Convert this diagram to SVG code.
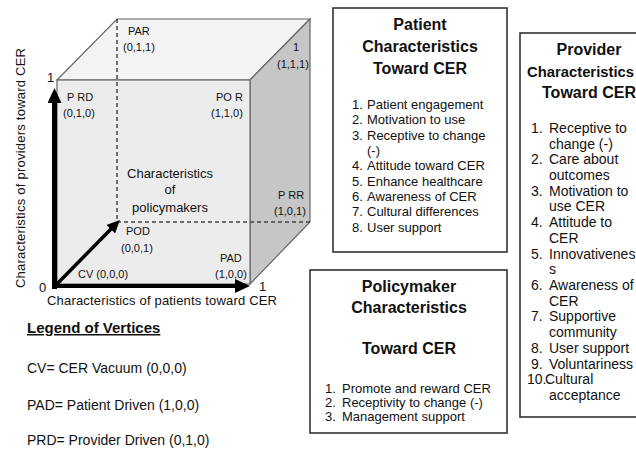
<svg xmlns="http://www.w3.org/2000/svg" width="636" height="450" viewBox="0 0 636 450">
<style>
text{font-family:"Liberation Sans",Arial,sans-serif;fill:#111}
.v{font-size:11px}
.ax{font-size:13px}
.ttl{font-size:16px;font-weight:bold}
.it{font-size:13px}
.pit{font-size:14px}
.lg{font-size:14px}
.box{fill:#fff;stroke:#333;stroke-width:1.6}
.edge{stroke:#666;stroke-width:1.2}
.dash{fill:none;stroke:#444;stroke-width:1.5;stroke-dasharray:4,3}
</style>
<defs>
<marker id="head" markerUnits="userSpaceOnUse" markerWidth="15" markerHeight="14" refX="1" refY="7" orient="auto"><path d="M0,0 L15,7 L0,14 z" fill="#000"/></marker>
<marker id="head2" markerUnits="userSpaceOnUse" markerWidth="13" markerHeight="12" refX="1" refY="6" orient="auto"><path d="M0,0 L13,6 L0,12 z" fill="#000"/></marker>
<clipPath id="provclip"><rect x="520" y="33" width="116" height="384"/></clipPath>
</defs>
<rect width="636" height="450" fill="#fff"/>
<g id="cube">
<polygon points="57,80 117,19 310,19 250,80" fill="#f3f3f3" class="edge"/>
<polygon points="250,80 310,19 310,222 250,284" fill="#c6c6c6" class="edge"/>
<rect x="57" y="80" width="193" height="204" fill="#ececec" class="edge"/>
</g>
<g id="connectors">
<path class="dash" d="M117,19 V222 H310"/>
<line x1="54.5" y1="289" x2="54.5" y2="102" stroke="#000" stroke-width="5" marker-end="url(#head)"/>
<line x1="52" y1="286" x2="236" y2="286" stroke="#000" stroke-width="4" marker-end="url(#head)"/>
<line x1="56" y1="285" x2="111.5" y2="228.5" stroke="#000" stroke-width="3.5" marker-end="url(#head2)"/>
</g>
<g id="cube-labels">
<text class="ax" x="47" y="82">1</text>
<text class="ax" x="39" y="292">0</text>
<text class="ax" x="259" y="291">1</text>
<text class="ax" x="47" y="305" textLength="230" lengthAdjust="spacing">Characteristics of patients toward CER</text>
<text class="ax" transform="translate(25,288) rotate(-90)" textLength="240" lengthAdjust="spacing">Characteristics of providers toward CER</text>
<g id="v-par"><text class="v" x="128" y="35">PAR</text><text class="v" x="123" y="51">(0,1,1)</text></g>
<g id="v-111"><text class="v" x="293" y="51">1</text><text class="v" x="277" y="68">(1,1,1)</text></g>
<g id="v-prd"><text class="v" x="67" y="101">P RD</text><text class="v" x="63" y="117">(0,1,0)</text></g>
<g id="v-por"><text class="v" x="216" y="101">PO R</text><text class="v" x="211" y="117">(1,1,0)</text></g>
<g id="v-prr"><text class="v" x="278" y="199">P RR</text><text class="v" x="274" y="215">(1,0,1)</text></g>
<g id="v-pod"><text class="v" x="126" y="235">POD</text><text class="v" x="121" y="252">(0,0,1)</text></g>
<g id="v-pad"><text class="v" x="220" y="262">PAD</text><text class="v" x="215" y="278">(1,0,0)</text></g>
<g id="v-cv"><text class="v" x="78" y="278">CV (0,0,0)</text></g>
<g id="policy-axis"><text class="ax" x="170" y="178" text-anchor="middle">Characteristics</text><text class="ax" x="170" y="194" text-anchor="middle">of</text><text class="ax" x="170" y="212" text-anchor="middle">policymakers</text></g>
</g>
<g id="legend">
<text x="27" y="333" style="font-size:15px;font-weight:bold" text-decoration="underline">Legend of Vertices</text>
<text class="lg" x="27" y="373">CV= CER Vacuum (0,0,0)</text>
<text class="lg" x="27" y="410">PAD= Patient Driven (1,0,0)</text>
<text class="lg" x="27" y="445">PRD= Provider Driven (0,1,0)</text>
</g>
<g id="patient-box">
<rect class="box" x="333" y="8" width="174" height="244"/>
<text class="ttl" x="420" y="30" text-anchor="middle">Patient</text>
<text class="ttl" x="420" y="52" text-anchor="middle">Characteristics</text>
<text class="ttl" x="420" y="74" text-anchor="middle">Toward CER</text>
<text class="it" x="352" y="109">1.</text><text class="it" x="367" y="109">Patient engagement</text>
<text class="it" x="352" y="124">2.</text><text class="it" x="367" y="124">Motivation to use</text>
<text class="it" x="352" y="140">3.</text><text class="it" x="367" y="140">Receptive to change</text>
<text class="it" x="367" y="155">(-)</text>
<text class="it" x="352" y="170">4.</text><text class="it" x="367" y="170">Attitude toward CER</text>
<text class="it" x="352" y="186">5.</text><text class="it" x="367" y="186">Enhance healthcare</text>
<text class="it" x="352" y="201">6.</text><text class="it" x="367" y="201">Awareness of CER</text>
<text class="it" x="352" y="216">7.</text><text class="it" x="367" y="216">Cultural differences</text>
<text class="it" x="352" y="232">8.</text><text class="it" x="367" y="232">User support</text>
</g>
<g id="policymaker-box">
<rect class="box" x="310" y="270" width="197" height="163"/>
<text class="ttl" x="409" y="292" text-anchor="middle">Policymaker</text>
<text class="ttl" x="409" y="313" text-anchor="middle">Characteristics</text>
<text class="ttl" x="409" y="354" text-anchor="middle">Toward CER</text>
<text class="it" x="325" y="393">1.</text><text class="it" x="342" y="393">Promote and reward CER</text>
<text class="it" x="325" y="407">2.</text><text class="it" x="342" y="407">Receptivity to change (-)</text>
<text class="it" x="325" y="421">3.</text><text class="it" x="342" y="421">Management support</text>
</g>
<g id="provider-box">
<rect class="box" x="520" y="33" width="140" height="384"/>
<g clip-path="url(#provclip)">
<text class="ttl" x="589" y="55" text-anchor="middle">Provider</text>
<text class="ttl" x="527" y="77" style="font-size:15px" textLength="107" lengthAdjust="spacingAndGlyphs">Characteristics</text>
<text class="ttl" x="589" y="98" text-anchor="middle">Toward CER</text>
<text class="pit" x="531" y="133">1.</text><text class="pit" x="549" y="133">Receptive to</text>
<text class="pit" x="549" y="149">change (-)</text>
<text class="pit" x="531" y="164">2.</text><text class="pit" x="549" y="164">Care about</text>
<text class="pit" x="549" y="180">outcomes</text>
<text class="pit" x="531" y="196">3.</text><text class="pit" x="549" y="196">Motivation to</text>
<text class="pit" x="549" y="211">use CER</text>
<text class="pit" x="531" y="227">4.</text><text class="pit" x="549" y="227">Attitude to</text>
<text class="pit" x="549" y="243">CER</text>
<text class="pit" x="531" y="259">5.</text><text class="pit" x="549" y="259">Innovativenes</text>
<text class="pit" x="549" y="274">s</text>
<text class="pit" x="531" y="290">6.</text><text class="pit" x="549" y="290">Awareness of</text>
<text class="pit" x="549" y="306">CER</text>
<text class="pit" x="531" y="321">7.</text><text class="pit" x="549" y="321">Supportive</text>
<text class="pit" x="549" y="337">community</text>
<text class="pit" x="531" y="353">8.</text><text class="pit" x="549" y="353">User support</text>
<text class="pit" x="531" y="369">9.</text><text class="pit" x="549" y="369">Voluntariness</text>
<text class="pit" x="527" y="384">10.</text><text class="pit" x="545" y="384">Cultural</text>
<text class="pit" x="549" y="400">acceptance</text>
</g>
</g>
</svg>
